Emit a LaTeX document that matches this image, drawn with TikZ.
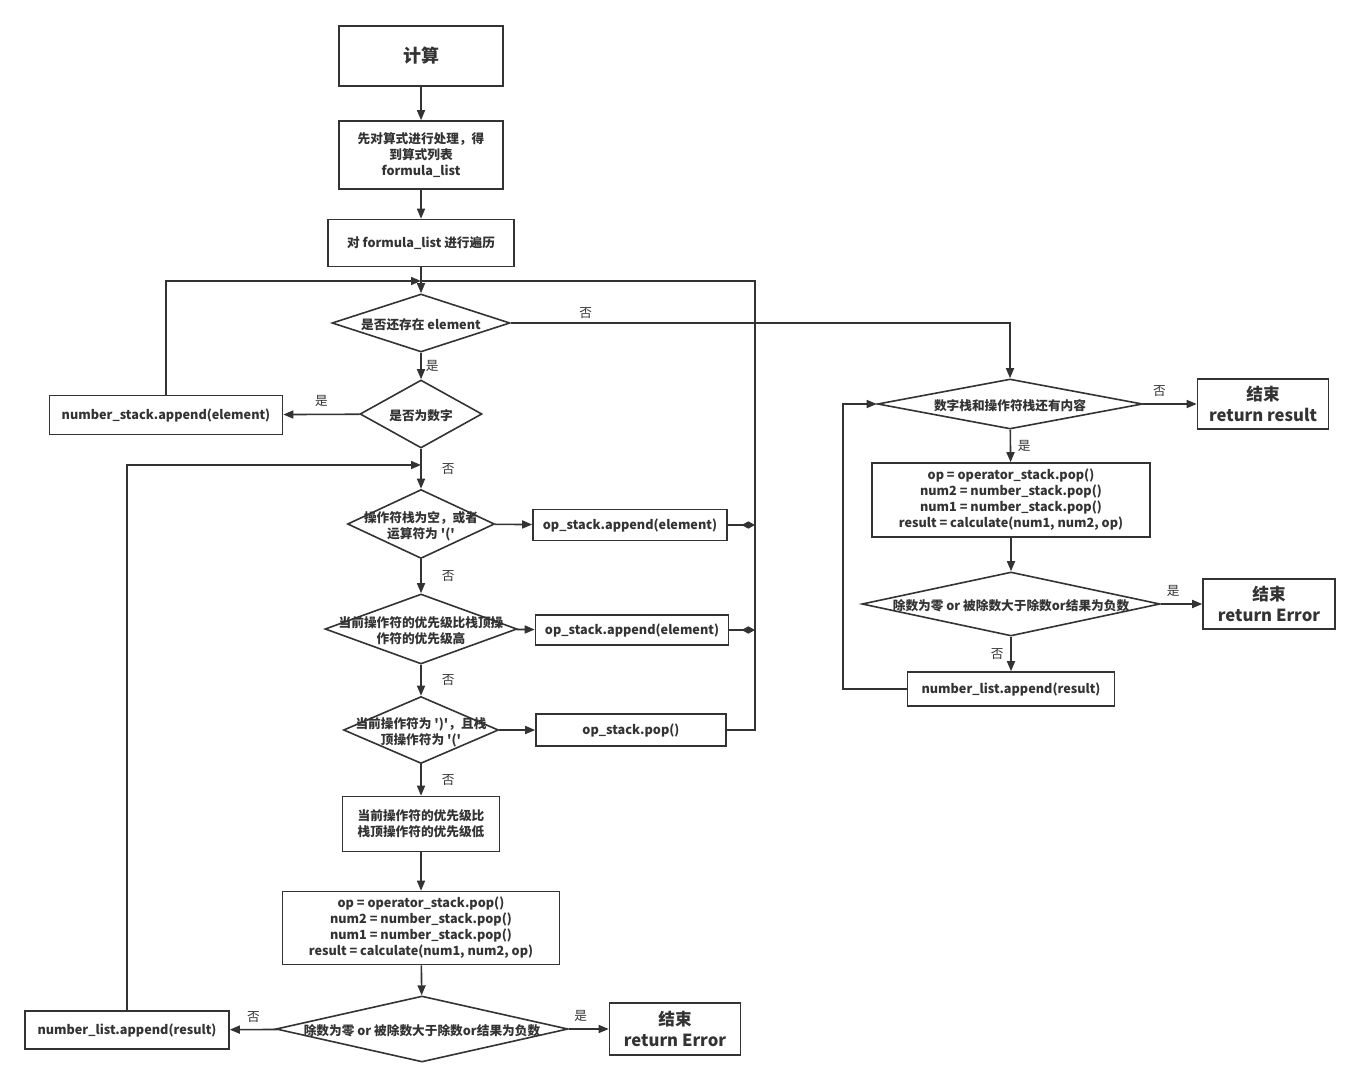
\documentclass[tikz,border=0pt]{standalone}
\usepackage{fontspec}
\setmainfont{Noto Sans CJK SC}[Ligatures=TeXOff]
\usetikzlibrary{shapes.geometric,arrows.meta}
\definecolor{ink}{HTML}{333333}
\newcommand{\fsn}{\fontsize{9.5}{12}\selectfont\bfseries}
\newcommand{\fsb}{\fontsize{12.5}{15.5}\selectfont\bfseries}
\newcommand{\fsl}{\fontsize{9.5}{12}\selectfont}
\newcommand{\dtxt}[1]{\raisebox{-0.5em}[0pt][0pt]{\makebox[0pt]{\begin{tabular}{@{}c@{}}#1\end{tabular}}}}
\begin{document}
\begin{tikzpicture}[x=0.75pt, y=-0.75pt, line width=1.2pt, color=ink, font=\fsn, >={Triangle[length=7.5pt,width=6pt]},
	box/.style={draw, rectangle, inner sep=0pt, align=center},
	dia/.style={draw, diamond, inner sep=0pt},
	lab/.style={font=\fsl, inner sep=1pt},
	tie/.style={-{Diamond[length=10pt,width=5.5pt]}}]
\useasboundingbox (0,0) rectangle (1359,1087);
% left column
\node[box, minimum width=123pt, minimum height=45pt, font=\fontsize{13.5}{16}\selectfont\bfseries] (calc) at (421,56) {计算};
\node[box, minimum width=123pt, minimum height=51pt] (prep) at (421,155) {先对算式进行处理，得\\到算式列表\\formula\_list};
\node[box, minimum width=139.5pt, minimum height=35.25pt] (trav) at (421,243) {对 formula\_list 进行遍历};
\node[dia, minimum width=133.5pt, minimum height=43.5pt] (d1) at (421,323) {\dtxt{是否还存在 element}};
\node[dia, minimum width=91.5pt, minimum height=51pt] (d2) at (421,414) {\dtxt{是否为数字}};
\node[box, minimum width=174.75pt, minimum height=29.25pt] (numstack) at (166,415) {number\_stack.append(element)};
\node[dia, minimum width=110.25pt, minimum height=51.75pt] (d3) at (421,524) {\dtxt{操作符栈为空，或者\\运算符为 '('}};
\node[box, minimum width=145.5pt, minimum height=23.25pt] (push1) at (630,525) {op\_stack.append(element)};
\node[dia, minimum width=144pt, minimum height=52.5pt] (d4) at (421,629) {\dtxt{当前操作符的优先级比栈顶操\\作符的优先级高}};
\node[box, minimum width=144.75pt, minimum height=22.5pt] (push2) at (632,630) {op\_stack.append(element)};
\node[dia, minimum width=116.25pt, minimum height=50.25pt] (d5) at (421,730) {\dtxt{当前操作符为 ')'，且栈\\顶操作符为 '('}};
\node[box, minimum width=142.5pt, minimum height=24pt] (pop) at (631,730) {op\_stack.pop()};
\node[box, minimum width=117.75pt, minimum height=41.25pt] (low) at (421,824) {当前操作符的优先级比\\栈顶操作符的优先级低};
\node[box, minimum width=207.75pt, minimum height=54.75pt] (calc1) at (421,928) {op = operator\_stack.pop()\\num2 = number\_stack.pop()\\num1 = number\_stack.pop()\\result = calculate(num1, num2, op)};
\node[dia, minimum width=219pt, minimum height=49.5pt] (d7) at (422,1029) {\dtxt{除数为零 or 被除数大于除数or结果为负数}};
\node[box, minimum width=153pt, minimum height=28.5pt] (numlist1) at (127,1030) {number\_list.append(result)};
\node[box, minimum width=98.25pt, minimum height=39pt, font=\fsb] (err1) at (675,1029) {结束\\return Error};
% right column
\node[dia, minimum width=198.75pt, minimum height=37.5pt] (d6) at (1010,404) {\dtxt{数字栈和操作符栈还有内容}};
\node[box, minimum width=98.25pt, minimum height=37.5pt, font=\fsb] (end1) at (1263,404) {结束\\return result};
\node[box, minimum width=208.5pt, minimum height=55.5pt] (calc2) at (1011,500) {op = operator\_stack.pop()\\num2 = number\_stack.pop()\\num1 = number\_stack.pop()\\result = calculate(num1, num2, op)};
\node[dia, minimum width=223.5pt, minimum height=48pt] (d8) at (1011,604) {\dtxt{除数为零 or 被除数大于除数or结果为负数}};
\node[box, minimum width=99pt, minimum height=37.5pt, font=\fsb] (err2) at (1269,604) {结束\\return Error};
\node[box, minimum width=155.25pt, minimum height=25.5pt] (numlist2) at (1011,689) {number\_list.append(result)};
\coordinate (j1) at (421,281);
\coordinate (j2) at (421,465);
\coordinate (rx) at (755,281);
% connectors
\draw[->] (calc) -- (prep);
\draw[->] (prep) -- (trav);
\draw[->] (trav) -- (d1);
\draw[->] (numstack.north) |- (j1);
\draw (pop.east) -| (rx) -- (j1);
\draw[->] (d1) -- node[lab, right=2pt] {是} (d2);
\draw[->] (d1.east) -| node[lab, pos=0.075, above=2pt] {否} (d6.north);
\draw[->] (d2) -- node[lab, above=4pt] {是} (numstack);
\draw[->] (d2) -- node[lab, right=14pt] {否} (d3);
\draw[->] (numlist1.north) |- (j2);
\draw[->] (d3) -- (push1);
\draw[tie] (push1) -- (push1 -| rx);
\draw[->] (d3) -- node[lab, right=14pt] {否} (d4);
\draw[->] (d4) -- (push2);
\draw[tie] (push2) -- (push2 -| rx);
\draw[->] (d4) -- node[lab, right=14pt] {否} (d5);
\draw[->] (d5) -- (pop);
\draw[->] (d5) -- node[lab, right=14pt] {否} (low);
\draw[->] (low) -- (calc1);
\draw[->] (calc1) -- (d7);
\draw[->] (d7) -- node[lab, pos=0.3, above=4pt] {是} (err1);
\draw[->] (d7) -- node[lab, pos=0.5, above=4pt] {否} (numlist1);
\draw[->] (d6) -- node[lab, pos=0.3, above=4pt] {否} (end1);
\draw[->] (d6) -- node[lab, right=4pt] {是} (calc2);
\draw[->] (calc2) -- (d8);
\draw[->] (d8) -- node[lab, pos=0.3, above=4pt] {是} (err2);
\draw[->] (d8) -- node[lab, left=4pt] {否} (numlist2);
\draw[->] (numlist2.west) -- ++(-64,0) |- (d6.west);
\end{tikzpicture}
\end{document}
